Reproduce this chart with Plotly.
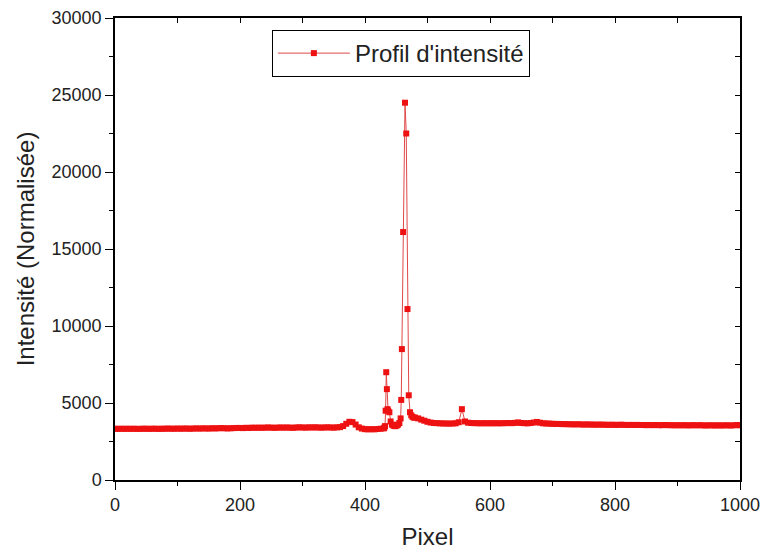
import plotly.graph_objects as go

# intensity profile along the pixel line
x_left = list(range(0, 430, 5))
y_left = [3330, 3320, 3330, 3320, 3330, 3320, 3330, 3320, 3320, 3330,
          3330, 3320, 3330, 3330, 3320, 3330, 3330, 3340, 3330, 3330,
          3340, 3330, 3340, 3340, 3330, 3340, 3350, 3340, 3350, 3350,
          3340, 3360, 3350, 3360, 3370, 3360, 3350, 3360, 3370, 3380,
          3380, 3370, 3390, 3380, 3400, 3390, 3400, 3390, 3400, 3410,
          3400, 3390, 3400, 3410, 3400, 3410, 3400, 3390, 3410, 3420,
          3410, 3400, 3420, 3410, 3420, 3410, 3400, 3410, 3420, 3410,
          3400, 3420, 3430, 3500, 3650, 3780, 3760, 3600, 3420, 3340,
          3300, 3290, 3300, 3290, 3310, 3330]

x_peak = [430, 431, 432, 433, 434, 435, 436, 437, 439, 441, 443, 445, 447, 449, 451,
          453, 455, 457, 458, 459, 461, 464, 466, 468, 470, 472, 474, 476, 478]
y_peak = [3350, 3400, 3500, 4500, 7000, 5900, 4600, 4500, 4400, 3800, 3600, 3550, 3500, 3500, 3550,
          3600, 3700, 4000, 5200, 8500, 16100, 24500, 22500, 11100, 5500, 4400, 4200, 4100, 4050]

x_right = list(range(480, 1001, 5))
y_right = [4050, 4000, 3920, 3850, 3780, 3730, 3700, 3690, 3680, 3670,
           3670, 3660, 3670, 3680, 3750, 4600, 3800, 3720, 3700, 3690,
           3690, 3680, 3690, 3680, 3690, 3680, 3690, 3680, 3690, 3690,
           3700, 3690, 3710, 3740, 3700, 3690, 3680, 3700, 3730, 3770,
           3720, 3680, 3670, 3660, 3650, 3640, 3640, 3630, 3630, 3620,
           3620, 3610, 3620, 3610, 3600, 3610, 3600, 3600, 3590, 3600,
           3590, 3590, 3580, 3590, 3580, 3580, 3590, 3580, 3570, 3580,
           3570, 3580, 3570, 3570, 3560, 3570, 3560, 3570, 3560, 3560,
           3570, 3560, 3560, 3550, 3560, 3550, 3560, 3550, 3550, 3560,
           3550, 3560, 3550, 3540, 3550, 3550, 3540, 3550, 3540, 3550,
           3550, 3540, 3550, 3570, 3550]

x = x_left + x_peak + x_right
y = y_left + y_peak + y_right

font = "Arial, Liberation Sans, sans-serif"

fig = go.Figure()
fig.add_trace(go.Scatter(
    x=x, y=y, mode="lines+markers", name="Profil d'intensité",
    line=dict(color="#e04848", width=1),
    marker=dict(symbol="square", size=6, color="#ee1111"),
))
# empty trace so the top/right axes get drawn
fig.add_trace(go.Scatter(x=[None], y=[None], xaxis="x2", yaxis="y2", showlegend=False))

fig.update_layout(
    width=763, height=554,
    margin=dict(l=115, r=23, t=18, b=74, autoexpand=False),
    paper_bgcolor="white", plot_bgcolor="white",
    font=dict(family=font, size=18, color="#222222"),
    showlegend=True,
    legend=dict(x=0.251, y=0.974, xanchor="left", yanchor="top",
                bordercolor="black", borderwidth=1, bgcolor="white",
                itemwidth=72, font=dict(size=24, color="#222222")),
    xaxis=dict(range=[0, 1000], dtick=200, showgrid=False, zeroline=False,
               automargin=False, tickformat="d",
               showline=True, linecolor="black", linewidth=1.5,
               ticks="outside", ticklen=8, tickcolor="black",
               minor=dict(ticks="outside", ticklen=4, dtick=100, tickcolor="black"),
               title=dict(text="Pixel", font=dict(size=24), standoff=14)),
    yaxis=dict(range=[0, 30000], dtick=5000, showgrid=False, zeroline=False,
               automargin=False, tickformat="d",
               showline=True, linecolor="black", linewidth=1.5,
               ticks="outside", ticklen=8, tickcolor="black",
               minor=dict(ticks="outside", ticklen=4, dtick=2500, tickcolor="black"),
               title=dict(text="Intensité (Normalisée)", font=dict(size=24), standoff=10)),
    xaxis2=dict(range=[0, 1000], overlaying="x", side="top", showticklabels=False,
                automargin=False,
                showgrid=False, zeroline=False, showline=True, linecolor="black",
                linewidth=1.5, ticks="inside", ticklen=5, dtick=100, tickcolor="black"),
    yaxis2=dict(range=[0, 30000], overlaying="y", side="right", showticklabels=False,
                automargin=False,
                showgrid=False, zeroline=False, showline=True, linecolor="black",
                linewidth=1.5, ticks="inside", ticklen=5, dtick=2500, tickcolor="black"),
)

# drop the default page margin so the figure sits at the window corner
fig.write_html("out.html", config={"displayModeBar": False},
               post_script="document.body.style.margin='0';")
